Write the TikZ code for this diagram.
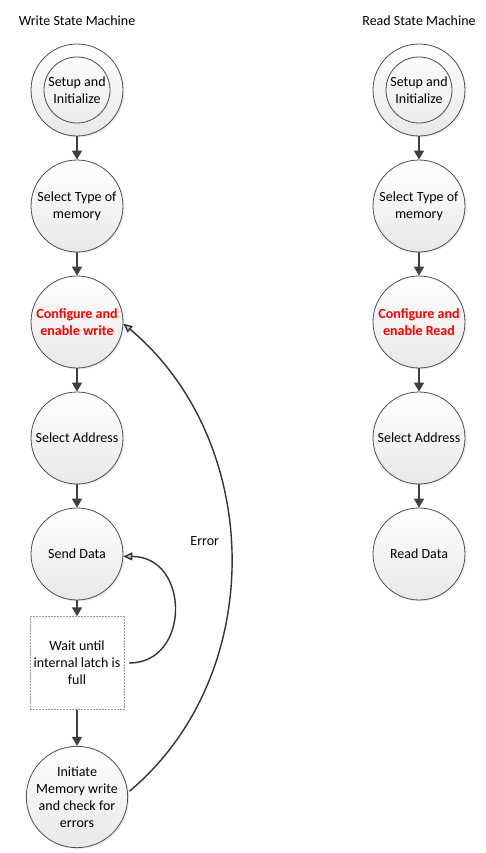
\documentclass[tikz,border=0pt]{standalone}
\usepackage{fontspec}
\setmainfont{Carlito}
\usepackage{tikz}
\usetikzlibrary{shapes.geometric, arrows.meta, shadows}
\tikzstyle{state} = [circle, minimum size = 92pt, inner sep = 0pt, align =
  center, draw = black!70, line width = 0.8pt, top color = white, bottom color
  = black!9, drop shadow = {opacity = 0.15, shadow xshift = 1.5pt, shadow
  yshift = -1.5pt}]
\tikzstyle{startstate} = [state, path picture = {\draw [black!70, line width =
  0.8pt] (path picture bounding box.center) circle (33pt);}]
\tikzstyle{waitbox} = [rectangle, minimum width = 94pt, minimum height = 93pt,
  align = center, draw = black!40, dash pattern = on 2pt off 1pt, fill = white]
\tikzstyle{title} = [align = center]
\tikzstyle{hot} = [text = red, font = \fontsize{14}{17}\selectfont\bfseries]
\tikzstyle{arrow} = [draw = black!75, line width = 1.5pt, -{Triangle[length =
  9pt, width = 10pt]}]
\tikzstyle{back} = [draw = black!80, line width = 1.4pt, -{Triangle[length =
  9pt, width = 8pt, fill = black!20]}]

\begin{document}
\begin{tikzpicture}[x = 1pt, y = -1pt, node distance = 116pt,
  font = \fontsize{14}{17}\selectfont]
  \useasboundingbox (0,0) rectangle (486,853);

  \node (setup-w) [startstate] at (77,90) {Setup and\\Initialize};
  \node (title-w) [title, node distance = 69pt, above of = setup-w] {Write State Machine};
  \node (type-w) [state, below of = setup-w] {Select Type of\\memory};
  \node (config-w) [state, hot, below of = type-w] {Configure and\\enable write};
  \node (address-w) [state, below of = config-w] {Select Address};
  \node (send-w) [state, below of = address-w] {Send Data};
  \node (wait-w) [waitbox, node distance = 109pt, below of = send-w] {Wait until\\internal latch is\\full};
  \node (initiate-w) [state, node distance = 134pt, below of = wait-w] {Initiate\\Memory write\\and check for\\errors};

  \node (setup-r) [startstate, node distance = 342pt, right of = setup-w] {Setup and\\Initialize};
  \node (title-r) [title, node distance = 69pt, above of = setup-r] {Read State Machine};
  \node (type-r) [state, below of = setup-r] {Select Type of\\memory};
  \node (config-r) [state, hot, below of = type-r] {Configure and\\enable Read};
  \node (address-r) [state, below of = config-r] {Select Address};
  \node (read-r) [state, below of = address-r] {Read Data};

  \draw [arrow] (setup-w) -- (type-w);
  \draw [arrow] (type-w) -- (config-w);
  \draw [arrow] (config-w) -- (address-w);
  \draw [arrow] (address-w) -- (send-w);
  \draw [arrow] (send-w) -- (wait-w);
  \draw [arrow] (wait-w) -- (initiate-w);
  \draw [back, shorten <= 5pt] (wait-w.east) to [out = 0, in = 0, looseness = 1.6] (send-w.-3);
  \draw [back, shorten <= 2pt] (initiate-w.5) to [out = 40, in = -40, looseness = 1]
    node [midway, left = 8pt, yshift = 17pt] {Error} (config-w.-2);

  \draw [arrow] (setup-r) -- (type-r);
  \draw [arrow] (type-r) -- (config-r);
  \draw [arrow] (config-r) -- (address-r);
  \draw [arrow] (address-r) -- (read-r);
\end{tikzpicture}
\end{document}
